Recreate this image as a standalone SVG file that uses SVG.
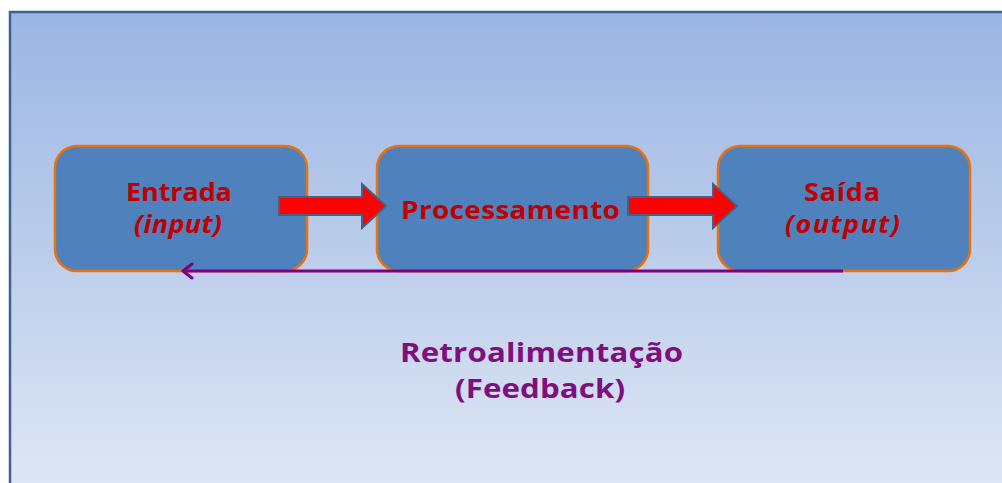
<svg xmlns="http://www.w3.org/2000/svg" width="1002" height="483" viewBox="0 0 1002 483">
<defs>
<linearGradient id="bg" x1="0" y1="0" x2="0" y2="1">
<stop offset="0" stop-color="#9bb5e3"/>
<stop offset="0.5" stop-color="#bccdeb"/>
<stop offset="1" stop-color="#dfe7f5"/>
</linearGradient>
<marker id="open" markerWidth="16" markerHeight="20" refX="12" refY="9" orient="auto" markerUnits="userSpaceOnUse">
<path d="M3,2 L12,9 L3,16" fill="none" stroke="#800080" stroke-width="3" stroke-linecap="round" stroke-linejoin="round"/>
</marker>
<style>
.box{fill:#4f81bd;stroke:#e8720c;stroke-width:2.5}
.lbl{font-family:"Open Sans","Noto Sans",sans-serif;font-weight:bold;fill:#c00000;font-size:25px;text-anchor:middle}
.it{font-style:italic}
.fb{font-family:"Open Sans","Noto Sans",sans-serif;font-weight:bold;fill:#7f0f7f;font-size:26px;text-anchor:middle}
.arr{fill:#ff0000;stroke:#44618c;stroke-width:2;stroke-linejoin:miter}
</style>
</defs>
<rect x="10" y="12" width="1000" height="480" fill="url(#bg)" stroke="#3d6193" stroke-width="2.5"/>
<g id="entrada">
<rect class="box" x="55" y="146" width="252" height="125" rx="22"/>
<text class="lbl" transform="translate(179,200.5) scale(1.08,1)" textLength="98" lengthAdjust="spacing">Entrada</text>
<text class="lbl it" transform="translate(178,233) scale(1.08,1)" textLength="81.5" lengthAdjust="spacing">(input)</text>
</g>
<g id="processamento">
<rect class="box" x="377" y="146" width="271" height="125" rx="22"/>
<text class="lbl" transform="translate(510.5,218.5) scale(1.12,1)" textLength="195.5" lengthAdjust="spacing">Processamento</text>
</g>
<g id="saida">
<rect class="box" x="718" y="146" width="252" height="125" rx="22"/>
<text class="lbl" transform="translate(842,200.5) scale(1.08,1)" textLength="70.4" lengthAdjust="spacing">Saída</text>
<text class="lbl it" transform="translate(842.5,233) scale(1.08,1)" textLength="106.5" lengthAdjust="spacing">(output)</text>
</g>
<g id="connectors">
<path class="arr" d="M279,197 L362,197 L362,184 L386,206 L362,228 L362,215 L279,215 Z"/>
<path class="arr" d="M628,197 L713,197 L713,184 L737,206 L713,228 L713,215 L628,215 Z"/>
<line x1="843" y1="271" x2="183" y2="271" stroke="#800080" stroke-width="3" marker-end="url(#open)"/>
</g>
<g id="feedback">
<text class="fb" transform="translate(541.5,362) scale(1.2,1)" textLength="236" lengthAdjust="spacing">Retroalimentação</text>
<text class="fb" transform="translate(540,398) scale(1.2,1)" textLength="141.7" lengthAdjust="spacing">(Feedback)</text>
</g>
</svg>
